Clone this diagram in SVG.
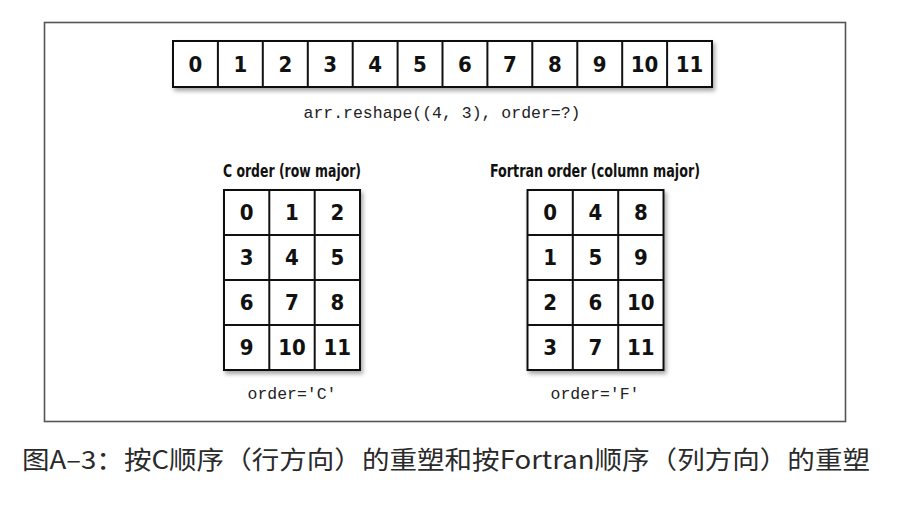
<svg xmlns="http://www.w3.org/2000/svg" width="900" height="510" viewBox="0 0 900 510">
<defs>
<filter id="sh" x="-10%" y="-10%" width="130%" height="140%">
<feDropShadow dx="2" dy="3" stdDeviation="2" flood-color="#000" flood-opacity="0.35"/>
</filter>
</defs>
<style>
.cell{fill:#fff;stroke:#111;stroke-width:2}
.ln{stroke:#111;stroke-width:2}
.num{font-family:"Liberation Sans Narrow","DejaVu Sans Condensed","Liberation Sans",sans-serif;font-weight:bold;font-size:22px;fill:#111;text-anchor:middle}
.hd{font-family:"Liberation Sans Narrow","DejaVu Sans Condensed","Liberation Sans",sans-serif;font-weight:bold;font-size:18px;fill:#111;text-anchor:middle}
.code{font-family:"Liberation Mono","DejaVu Sans Mono",monospace;font-size:17px;fill:#222;text-anchor:middle}
.cap{font-family:"Noto Sans CJK SC","Noto Sans",sans-serif;font-size:25px;fill:#2a2a2a}
</style>
<rect width="900" height="510" fill="#fff"/>
<rect x="44.5" y="22.5" width="801" height="399" fill="none" stroke="#555" stroke-width="1.6"/>

<g id="array1d">
<rect class="cell" x="173" y="41" width="539" height="46" filter="url(#sh)"/>
<path class="ln" d="M217.9 41V87M262.8 41V87M307.8 41V87M352.7 41V87M397.6 41V87M442.5 41V87M487.4 41V87M532.3 41V87M577.3 41V87M622.2 41V87M667.1 41V87"/>
<text class="num" y="72"><tspan x="195.5">0</tspan><tspan x="240.4">1</tspan><tspan x="285.3">2</tspan><tspan x="330.2">3</tspan><tspan x="375.1">4</tspan><tspan x="420">5</tspan><tspan x="465">6</tspan><tspan x="509.9">7</tspan><tspan x="554.8">8</tspan><tspan x="599.7">9</tspan><tspan x="644.6">10</tspan><tspan x="689.5">11</tspan></text>
</g>

<g id="reshape-label">
<text class="code" x="442" y="118" textLength="277" lengthAdjust="spacingAndGlyphs">arr.reshape((4, 3), order=?)</text>
</g>

<g id="c-order">
<text class="hd" x="292" y="177" textLength="138" lengthAdjust="spacingAndGlyphs">C order (row major)</text>
<rect class="cell" x="224" y="190" width="136" height="180" filter="url(#sh)"/>
<path class="ln" d="M269.3 190V370M314.7 190V370M224 235H360M224 280H360M224 325H360"/>
<text class="num"><tspan x="246.7" y="220">0</tspan><tspan x="292" y="220">1</tspan><tspan x="337.3" y="220">2</tspan><tspan x="246.7" y="265">3</tspan><tspan x="292" y="265">4</tspan><tspan x="337.3" y="265">5</tspan><tspan x="246.7" y="310">6</tspan><tspan x="292" y="310">7</tspan><tspan x="337.3" y="310">8</tspan><tspan x="246.7" y="355">9</tspan><tspan x="292" y="355">10</tspan><tspan x="337.3" y="355">11</tspan></text>
<text class="code" x="292" y="399" textLength="89" lengthAdjust="spacingAndGlyphs">order='C'</text>
</g>

<g id="f-order">
<text class="hd" x="595" y="177" textLength="210" lengthAdjust="spacingAndGlyphs">Fortran order (column major)</text>
<rect class="cell" x="527.5" y="190" width="136" height="180" filter="url(#sh)"/>
<path class="ln" d="M572.8 190V370M618.2 190V370M527.5 235H663.5M527.5 280H663.5M527.5 325H663.5"/>
<text class="num"><tspan x="550.2" y="220">0</tspan><tspan x="595.5" y="220">4</tspan><tspan x="640.8" y="220">8</tspan><tspan x="550.2" y="265">1</tspan><tspan x="595.5" y="265">5</tspan><tspan x="640.8" y="265">9</tspan><tspan x="550.2" y="310">2</tspan><tspan x="595.5" y="310">6</tspan><tspan x="640.8" y="310">10</tspan><tspan x="550.2" y="355">3</tspan><tspan x="595.5" y="355">7</tspan><tspan x="640.8" y="355">11</tspan></text>
<text class="code" x="595" y="399" textLength="89" lengthAdjust="spacingAndGlyphs">order='F'</text>
</g>

<g id="caption">
<text class="cap" x="22" y="469" textLength="848" lengthAdjust="spacingAndGlyphs">图A–3：按C顺序（行方向）的重塑和按Fortran顺序（列方向）的重塑</text>
</g>
</svg>
